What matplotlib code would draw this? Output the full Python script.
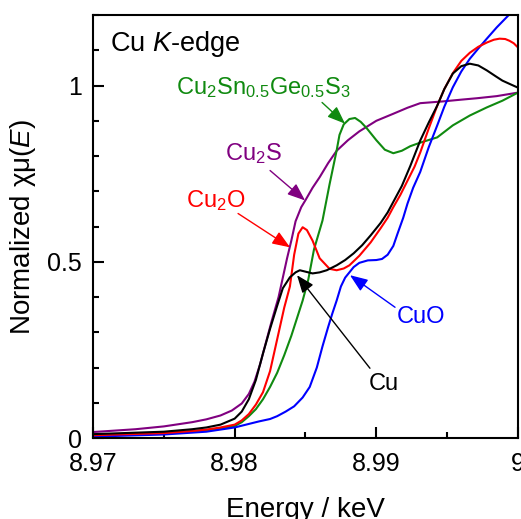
import matplotlib
matplotlib.use("Agg")
import matplotlib.pyplot as plt
from matplotlib.ticker import MultipleLocator, FormatStrFormatter

plt.rcParams['font.family'] = ['Liberation Sans', 'DejaVu Sans']
plt.rcParams['mathtext.fontset'] = 'custom'
plt.rcParams['mathtext.rm'] = 'Liberation Sans'
plt.rcParams['mathtext.it'] = 'Liberation Sans:italic'

# Cu foil
cu_E = [8.970, 8.975, 8.977, 8.978, 8.979, 8.980, 8.9805, 8.981, 8.9815, 8.982,
        8.9825, 8.9830, 8.9834, 8.9839, 8.9843, 8.9846, 8.9850, 8.9855, 8.9860, 8.9865,
        8.9872, 8.9878, 8.9884, 8.9890, 8.9896, 8.9903, 8.9908, 8.9912, 8.9918, 8.9924,
        8.9931, 8.9937, 8.9943, 8.9948, 8.9954, 8.9960, 8.9966, 8.9972, 8.9978, 8.9984,
        8.9989, 8.9995, 9.000]
cu_y = [0.011, 0.018, 0.025, 0.030, 0.038, 0.055, 0.075, 0.11, 0.165, 0.24,
        0.31, 0.375, 0.425, 0.456, 0.47, 0.476, 0.472, 0.467, 0.470, 0.476,
        0.49, 0.505, 0.524, 0.547, 0.575, 0.61, 0.64, 0.67, 0.715, 0.772,
        0.844, 0.895, 0.943, 0.99, 1.034, 1.055, 1.062, 1.057, 1.043, 1.027,
        1.014, 1.003, 0.994]

# Cu2O
cu2o_E = [8.970, 8.975, 8.977, 8.978, 8.979, 8.980, 8.9805, 8.981, 8.9815, 8.982,
          8.9825, 8.9830, 8.9835, 8.9839, 8.9842, 8.9845, 8.9848, 8.9851, 8.9855, 8.9860,
          8.9867, 8.9872, 8.9877, 8.9881, 8.9888, 8.9896, 8.9903, 8.9908, 8.9912, 8.9917,
          8.9922, 8.9927, 8.9931, 8.9937, 8.9943, 8.9948, 8.9954, 8.9960, 8.9966, 8.9972,
          8.9978, 8.9983, 8.9987, 8.9991, 8.9994, 8.9997, 9.000]
cu2o_y = [0.008, 0.014, 0.020, 0.024, 0.030, 0.038, 0.050, 0.068, 0.095, 0.13,
          0.19, 0.28, 0.37, 0.43, 0.52, 0.58, 0.598, 0.59, 0.56, 0.51,
          0.48, 0.476, 0.481, 0.49, 0.517, 0.555, 0.595, 0.625, 0.655, 0.69,
          0.73, 0.77, 0.81, 0.878, 0.943, 0.99, 1.035, 1.07, 1.093, 1.11,
          1.122, 1.13, 1.133, 1.132, 1.127, 1.12, 1.108]

# Cu2Sn0.5Ge0.5S3
ctgs_E = [8.970, 8.975, 8.978, 8.979, 8.980, 8.9805, 8.981, 8.9815, 8.982, 8.9825,
          8.9830, 8.9835, 8.9840, 8.9844, 8.9848, 8.9852, 8.9856, 8.9862, 8.9867, 8.9872,
          8.9874, 8.9877, 8.9881, 8.9885, 8.9889, 8.9893, 8.9900, 8.9906, 8.9912, 8.9918,
          8.9924, 8.9931, 8.9943, 8.9954, 8.9966, 8.9978, 8.9989, 9.000]
ctgs_y = [0.008, 0.014, 0.022, 0.027, 0.034, 0.045, 0.062, 0.082, 0.11, 0.145,
          0.185, 0.235, 0.29, 0.34, 0.39, 0.45, 0.535, 0.617, 0.72, 0.816,
          0.86, 0.89, 0.905, 0.908, 0.897, 0.88, 0.845, 0.818, 0.808, 0.815,
          0.828, 0.838, 0.853, 0.887, 0.915, 0.938, 0.957, 0.98]

# Cu2S
cu2s_E = [8.970, 8.973, 8.975, 8.977, 8.978, 8.979, 8.9798, 8.9805, 8.981, 8.9814,
          8.9818, 8.9822, 8.9826, 8.9831, 8.9837, 8.9840, 8.9843, 8.9847, 8.9850, 8.9855,
          8.9860, 8.9866, 8.9872, 8.9880, 8.9888, 8.9900, 8.9912, 8.9922, 8.9931, 8.9947,
          8.9960, 8.9971, 8.9985, 9.000]
cu2s_y = [0.017, 0.025, 0.033, 0.045, 0.053, 0.064, 0.078, 0.098, 0.125, 0.16,
          0.21, 0.27, 0.33, 0.40, 0.51, 0.56, 0.615, 0.655, 0.675, 0.71,
          0.74, 0.78, 0.815, 0.845, 0.87, 0.90, 0.92, 0.937, 0.95, 0.955,
          0.96, 0.964, 0.97, 0.98]

# CuO
cuo_E = [8.970, 8.975, 8.978, 8.980, 8.981, 8.9817, 8.9825, 8.9830, 8.9836, 8.9842,
         8.9848, 8.9853, 8.9858, 8.9862, 8.9866, 8.9869, 8.9872, 8.9875, 8.9878, 8.9881,
         8.9884, 8.9888, 8.9894, 8.9900, 8.9904, 8.9908, 8.9912, 8.9915, 8.9919, 8.9922,
         8.9926, 8.9931, 8.9937, 8.9943, 8.9948, 8.9954, 8.9960, 8.9966, 8.9972, 8.9978,
         8.9985, 8.9993, 9.000]
cuo_y = [0.004, 0.010, 0.018, 0.030, 0.040, 0.047, 0.054, 0.062, 0.075, 0.09,
         0.115, 0.145, 0.20, 0.26, 0.315, 0.354, 0.39, 0.43, 0.455, 0.47,
         0.485, 0.497, 0.504, 0.505, 0.508, 0.52, 0.545, 0.58, 0.625, 0.665,
         0.71, 0.755, 0.825, 0.887, 0.94, 0.995, 1.04, 1.076, 1.105, 1.133,
         1.165, 1.198, 1.225]

green = '#108a10'
purple = '#800080'

fig = plt.figure(figsize=(5.21, 5.19), dpi=100)
ax = fig.add_axes([0.1785, 0.156, 0.8157, 0.815])

ax.plot(cu2s_E, cu2s_y, color=purple, lw=1.5)
ax.plot(ctgs_E, ctgs_y, color=green, lw=1.5)
ax.plot(cuo_E, cuo_y, color='blue', lw=1.5)
ax.plot(cu2o_E, cu2o_y, color='red', lw=1.5)
ax.plot(cu_E, cu_y, color='black', lw=1.5)

ax.set_xlim(8.97, 9.0)
ax.set_ylim(0, 1.2)
ax.xaxis.set_major_locator(MultipleLocator(0.01))
ax.xaxis.set_minor_locator(MultipleLocator(0.005))
ax.yaxis.set_major_locator(MultipleLocator(0.5))
ax.yaxis.set_minor_locator(MultipleLocator(0.1))
ax.xaxis.set_major_formatter(FormatStrFormatter('%g'))
ax.yaxis.set_major_formatter(FormatStrFormatter('%g'))
ax.tick_params(which='both', direction='in', width=1.5, labelsize=18)
ax.tick_params(which='major', length=8)
ax.tick_params(which='minor', length=4.5)
ax.tick_params(axis='x', pad=10)
ax.tick_params(axis='y', pad=8)
for s in ax.spines.values():
    s.set_linewidth(1.5)

ax.set_xlabel('Energy / keV', fontsize=20)
ax.set_ylabel(r'Normalized χμ($\mathit{E}$)', fontsize=20)
ax.xaxis.set_label_coords(0.5, -0.14)
ax.yaxis.set_label_coords(-0.13, 0.5)

ax.text(8.9712, 1.099, r'Cu $\mathit{K}$-edge', fontsize=19.5, ha='left', va='baseline')

labels = [
    (r'Cu$_2$Sn$_{0.5}$Ge$_{0.5}$S$_3$', green, (8.9820, 0.977), (8.98617, 0.952), (8.98779, 0.892)),
    (r'Cu$_2$S', purple, (8.9813, 0.788), (8.9825, 0.759), (8.98497, 0.674)),
    (r'Cu$_2$O', 'red', (8.97868, 0.654), (8.98024, 0.637), (8.98391, 0.541)),
    ('Cu', 'black', (8.99054, 0.136), (8.98955, 0.198), (8.9844, 0.462)),
    ('CuO', 'blue', (8.99315, 0.326), (8.99132, 0.371), (8.98814, 0.462)),
]
for txt, c, pos, tail, head in labels:
    ax.text(pos[0], pos[1], txt, color=c, fontsize=17, ha='center', va='baseline')
    ax.annotate('', xy=head, xytext=tail,
                arrowprops=dict(arrowstyle='-|>,head_length=0.9,head_width=0.35',
                                color=c, lw=1, shrinkA=0, shrinkB=0, mutation_scale=12))

fig.savefig('out.png', dpi=100)
